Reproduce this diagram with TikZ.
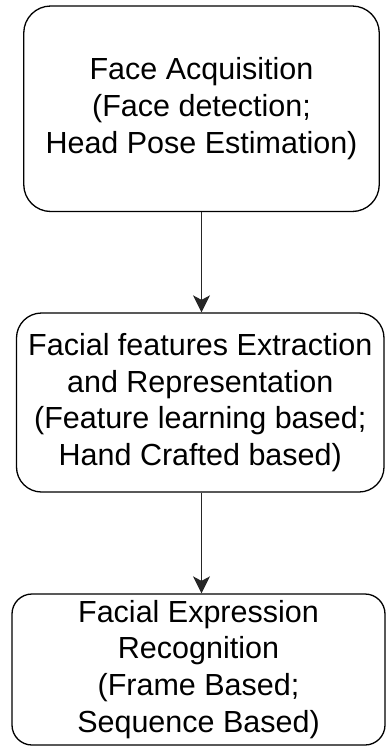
\documentclass[tikz,border=0pt]{standalone}
\usepackage{fontspec}
\setmainfont{Liberation Sans}
\usetikzlibrary{arrows.meta}
\tikzset{
  stagebox/.style={draw=black, line width=1.3pt, fill=white, align=center,
    inner sep=0pt, font=\fontsize{30.5}{36.8}\selectfont},
  flowarrow/.style={draw=black!85, line width=1.3pt,
    -{Stealth[length=17pt, width=17pt, inset=4.5pt]}}
}
\begin{document}
\begin{tikzpicture}[x=1pt, y=-1pt]
\useasboundingbox (0,0) rectangle (386,747);
\node[stagebox, rounded corners=27pt, minimum width=355.5pt, minimum height=205.5pt]
  (acq) at (201.5,108.75) {Face Acquisition\\(Face detection;\\Head Pose Estimation)};
\node[stagebox, rounded corners=25pt, minimum width=367.5pt, minimum height=179pt]
  (feat) at (200.25,402.5) {Facial features Extraction\\and Representation\\(Feature learning based;\\Hand Crafted based)};
\node[stagebox, rounded corners=20pt, minimum width=373pt, minimum height=151pt]
  (fer) at (198.5,669.5) {Facial Expression\\Recognition\\(Frame Based;\\Sequence Based)};
\draw[flowarrow] (acq.south) -- (acq.south |- feat.north);
\draw[flowarrow] (acq.south |- feat.south) -- (acq.south |- fer.north);
\end{tikzpicture}
\end{document}
